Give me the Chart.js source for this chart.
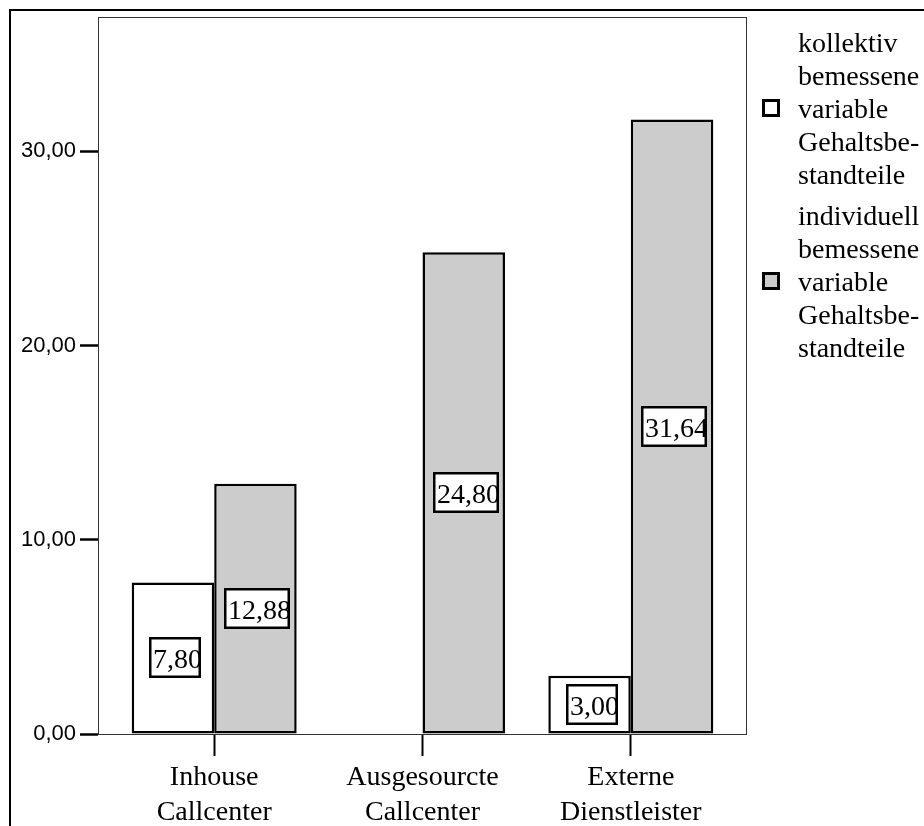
<!DOCTYPE html>
<html>
<head>
<meta charset="utf-8">
<script src="https://cdn.jsdelivr.net/npm/chart.js@4.4.1/dist/chart.umd.min.js"></script>
<style>
  html, body { margin: 0; padding: 0; background: #fff; }
  #wrap { width: 924px; height: 826px; position: relative; }
</style>
</head>
<body>
<div id="wrap"><canvas id="c" width="924" height="826"></canvas></div>
<script>
// Categories (two-line axis labels)
const categories = [
  ["Inhouse", "Callcenter"],
  ["Ausgesourcte", "Callcenter"],
  ["Externe", "Dienstleister"]
];
// Series values (mean shares); no value for the outsourced call centers in the first series
const kollektivValues  = [7.80, null, 3.00];
const individuellValues = [12.88, 24.80, 31.64];
// Legend text, line by line
const kollektivLegend  = ["kollektiv", "bemessene", "variable", "Gehaltsbe-", "standteile"];
const individuellLegend = ["individuell", "bemessene", "variable", "Gehaltsbe-", "standteile"];
// Y-axis tick values
const yTicks = [0, 10, 20, 30];

const serif = "'Liberation Serif', 'Times New Roman', serif";
const sans = "'Liberation Sans', Arial, sans-serif";
const fmt = v => v.toFixed(2).replace('.', ',');

// Frames, legend and value boxes
const decorations = {
  id: 'decorations',
  beforeDatasetsDraw(chart) {
    const { ctx, chartArea: a } = chart;
    ctx.save();
    // outer frame
    ctx.strokeStyle = '#000';
    ctx.lineWidth = 2;
    ctx.strokeRect(10, 10, 1000, 1000);
    // plot frame
    ctx.strokeStyle = '#333';
    ctx.lineWidth = 1;
    ctx.strokeRect(Math.round(a.left) + 0.5, Math.round(a.top) + 0.5,
                   Math.round(a.right - a.left) - 1, Math.round(a.bottom - a.top));
    ctx.restore();
  },
  afterDatasetsDraw(chart) {
    const { ctx } = chart;
    ctx.save();
    ctx.font = '28px ' + serif;
    chart.data.datasets.forEach((ds, di) => {
      const meta = chart.getDatasetMeta(di);
      meta.data.forEach((bar, i) => {
        const v = ds.data[i];
        if (v === null || v === undefined) return;
        const txt = fmt(v);
        const tw = ctx.measureText(txt).width;
        const w = Math.round(tw + 3), h = 41;
        const cx = bar.x + 2;
        const cy = (bar.y + bar.base) / 2;
        const left = Math.round(cx - w / 2), top = Math.round(cy - h / 2);
        ctx.fillStyle = '#fff';
        ctx.fillRect(left, top, w, h);
        ctx.save();
        ctx.beginPath();
        ctx.rect(left, top, w, h);
        ctx.clip();
        ctx.fillStyle = '#000';
        ctx.textAlign = 'left';
        ctx.textBaseline = 'alphabetic';
        ctx.fillText(txt, left + 4, top + h / 2 + 10.5);
        ctx.restore();
        ctx.strokeStyle = '#000';
        ctx.lineWidth = 2.5;
        ctx.strokeRect(left + 1.25, top + 1.25, w - 2.5, h - 2.5);
      });
    });
    ctx.restore();
  },
  afterDraw(chart) {
    const { ctx } = chart;
    const blocks = [
      { lines: kollektivLegend, y0: 52, ds: chart.data.datasets[0] },
      { lines: individuellLegend, y0: 225, ds: chart.data.datasets[1] }
    ];
    ctx.save();
    ctx.font = '28px ' + serif;
    ctx.textAlign = 'left';
    ctx.textBaseline = 'alphabetic';
    blocks.forEach(b => {
      b.lines.forEach((t, k) => {
        ctx.fillStyle = '#000';
        ctx.fillText(t, 798, b.y0 + k * 33);
      });
      const boxY = b.y0 + 2 * 33 - 19;
      ctx.fillStyle = b.ds.backgroundColor;
      ctx.fillRect(762, boxY, 18, 18);
      ctx.strokeStyle = '#000';
      ctx.lineWidth = 3;
      ctx.strokeRect(763.5, boxY + 1.5, 15, 15);
    });
    ctx.restore();
  }
};

new Chart(document.getElementById('c'), {
  type: 'bar',
  data: {
    labels: categories,
    datasets: [
      {
        label: kollektivLegend.join(' '),
        data: kollektivValues,
        backgroundColor: '#ffffff',
        borderColor: '#000000',
        borderWidth: 2.5,
        borderSkipped: false,
        categoryPercentage: 0.792,
        barPercentage: 1.0
      },
      {
        label: individuellLegend.join(' '),
        data: individuellValues,
        backgroundColor: '#cccccc',
        borderColor: '#000000',
        borderWidth: 2.5,
        borderSkipped: false,
        categoryPercentage: 0.792,
        barPercentage: 1.0
      }
    ]
  },
  options: {
    responsive: false,
    animation: false,
    devicePixelRatio: 1,
    layout: { padding: { top: 15, right: 177, left: 0, bottom: 0 } },
    plugins: {
      legend: { display: false },
      tooltip: { enabled: false }
    },
    scales: {
      x: {
        offset: true,
        afterBuildTicks(scale) {
          // small inner margin on both sides of the category band
          const pad = 0.0578;
          scale._startValue = -0.5 - pad;
          scale._valueRange = categories.length + 2 * pad;
        },
        afterFit(scale) { scale.height = 92; },
        border: { display: false },
        grid: {
          offset: false,
          drawOnChartArea: false,
          drawTicks: true,
          tickLength: 22,
          tickWidth: 2,
          tickColor: '#000'
        },
        ticks: {
          color: '#000',
          font: { family: serif, size: 28, lineHeight: 1.25 },
          padding: 4,
          maxRotation: 0,
          autoSkip: false
        }
      },
      y: {
        min: 0,
        max: 36.9,
        afterBuildTicks(scale) {
          scale.ticks = yTicks.map(v => ({ value: v }));
        },
        afterFit(scale) { scale.width = 98; },
        border: { display: false },
        grid: {
          drawOnChartArea: false,
          drawTicks: true,
          tickLength: 18,
          tickWidth: 2.5,
          tickColor: '#000'
        },
        ticks: {
          color: '#000',
          font: { family: sans, size: 22 },
          padding: 4,
          callback: v => fmt(v)
        }
      }
    }
  },
  plugins: [decorations]
});
</script>
</body>
</html>
